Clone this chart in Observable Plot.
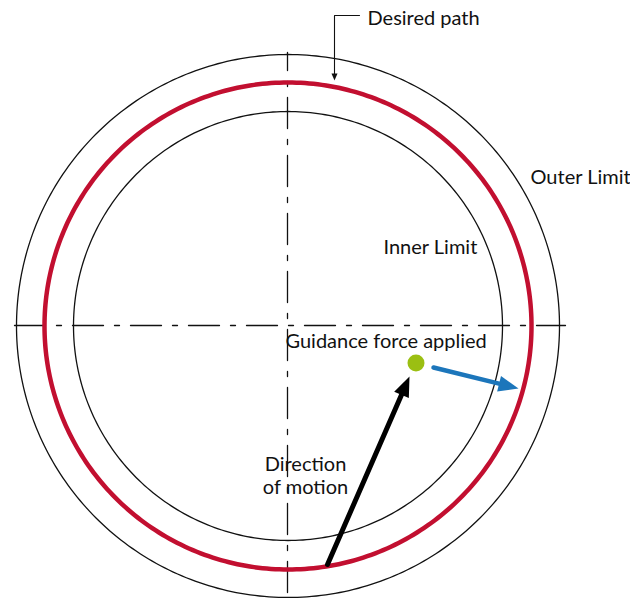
<!DOCTYPE html>
<html><head><meta charset="utf-8">
<script src="https://cdn.jsdelivr.net/npm/d3@7"></script>
<script src="https://cdn.jsdelivr.net/npm/@observablehq/plot@0.6"></script>
<style>body{margin:0;background:#fff} #chart svg{display:block}</style>
</head><body><div id="chart"></div>
<script>
// ---- data (units: px, origin at the circle centre, y up) ----
const circleNames = ["Outer Limit", "Desired path", "Inner Limit"];
const circleRadii = [271.5, 243.5, 214.5];
// dash-dot centre lines
const hAxisX = [-273.5, 277.5];
const hAxisY = 0.5;
const vAxisY = [273.5, -272.5];
const vAxisX = -0.5;
// guidance point
const guidancePoint = [128, -37];
// arrows: start x, start y, tip x, tip y
const motionArrow = [39.5, -238.5, 121.5, -50.5];
const forceArrow = [145.5, -41.5, 230.5, -62.5];
// callout for "Desired path"
const calloutX = [71.5, 46.5, 46.5];
const calloutY = [310.5, 310.5, 245.5];
// labels (top of text line)
const labelTexts = ["Desired path", "Outer Limit", "Inner Limit", "Guidance force applied"];
const labelX = [79.5, 242.5, 95.5, -2.5];
const labelY = [315.7, 156.7, 86.2, -7.3];
const centredTexts = ["Direction\nof motion"];
const centredX = [17.5];
const centredY = [-128.8];

// ---- build tables ----
const circlePts = [];
circleNames.forEach((name, i) => {
  for (let a = 0; a <= 360; a += 1) {
    const t = a * Math.PI / 180;
    circlePts.push({name, x: circleRadii[i] * Math.cos(t), y: circleRadii[i] * Math.sin(t)});
  }
});
const circle = n => circlePts.filter(d => d.name === n);

function arrowParts(a, L, W) {
  const [x1, y1, x2, y2] = a;
  const dx = x2 - x1, dy = y2 - y1, len = Math.hypot(dx, dy);
  const ux = dx / len, uy = dy / len, nx = -uy, ny = ux;
  const bx = x2 - ux * L, by = y2 - uy * L;
  return {
    shaft: [{x: x1, y: y1}, {x: bx + ux * 2, y: by + uy * 2}],
    head: [{x: x2, y: y2}, {x: bx + nx * W, y: by + ny * W}, {x: bx - nx * W, y: by - ny * W}, {x: x2, y: y2}]
  };
}
const motion = arrowParts(motionArrow, 20, 8);
const force = arrowParts(forceArrow, 20, 8);
const callout = calloutX.map((x, i) => ({x, y: calloutY[i]}));
const cl = callout.length;
const calloutArrow = arrowParts([callout[cl - 2].x, callout[cl - 2].y, callout[cl - 1].x, callout[cl - 1].y], 7, 3);
const calloutLine = callout.slice(0, cl - 1).concat(calloutArrow.shaft.slice(1));

const labels = labelTexts.map((text, i) => ({text, x: labelX[i], y: labelY[i]}));
const centred = centredTexts.map((text, i) => ({text, x: centredX[i], y: centredY[i]}));

const RED = "#c20f30", BLUE = "#1c76bb", GREEN = "#9bbf12", INK = "#111";
const dash = "31,11,5,11";

const chart = Plot.plot({
  width: 630, height: 598, margin: 0,
  style: {background: "#fff", fontFamily: "Lato, sans-serif"},
  x: {domain: [-287.5, 342.5], axis: null},
  y: {domain: [-272.5, 325.5], axis: null},
  marks: [
    Plot.line([{x: hAxisX[0], y: hAxisY}, {x: hAxisX[1], y: hAxisY}], {x: "x", y: "y", stroke: INK, strokeWidth: 1.3, strokeDasharray: dash}),
    Plot.line([{x: vAxisX, y: vAxisY[0]}, {x: vAxisX, y: vAxisY[1]}], {x: "x", y: "y", stroke: INK, strokeWidth: 1.3, strokeDasharray: dash, strokeDashoffset: 13}),
    Plot.line(circle("Outer Limit"), {x: "x", y: "y", stroke: INK, strokeWidth: 1.3}),
    Plot.line(circle("Inner Limit"), {x: "x", y: "y", stroke: INK, strokeWidth: 1.3}),
    Plot.line(circle("Desired path"), {x: "x", y: "y", stroke: RED, strokeWidth: 4.5}),
    Plot.line(calloutLine, {x: "x", y: "y", stroke: INK, strokeWidth: 1.1}),
    Plot.line(calloutArrow.head, {x: "x", y: "y", fill: INK, stroke: "none"}),
    Plot.line(motion.shaft, {x: "x", y: "y", stroke: "#000", strokeWidth: 5}),
    Plot.line(motion.head, {x: "x", y: "y", fill: "#000", stroke: "none"}),
    Plot.line(force.shaft, {x: "x", y: "y", stroke: BLUE, strokeWidth: 4.5}),
    Plot.line(force.head, {x: "x", y: "y", fill: BLUE, stroke: "none"}),
    Plot.dot([{x: guidancePoint[0], y: guidancePoint[1]}], {x: "x", y: "y", r: 8.5, fill: GREEN, stroke: "none"}),
    Plot.text(labels, {x: "x", y: "y", text: "text", textAnchor: "start", lineAnchor: "top", fontSize: 20, fill: INK}),
    Plot.text(centred, {x: "x", y: "y", text: "text", textAnchor: "middle", lineAnchor: "top", lineHeight: 1.15, fontSize: 20, fill: INK})
  ]
});
document.getElementById("chart").append(chart);
</script>
</body></html>
